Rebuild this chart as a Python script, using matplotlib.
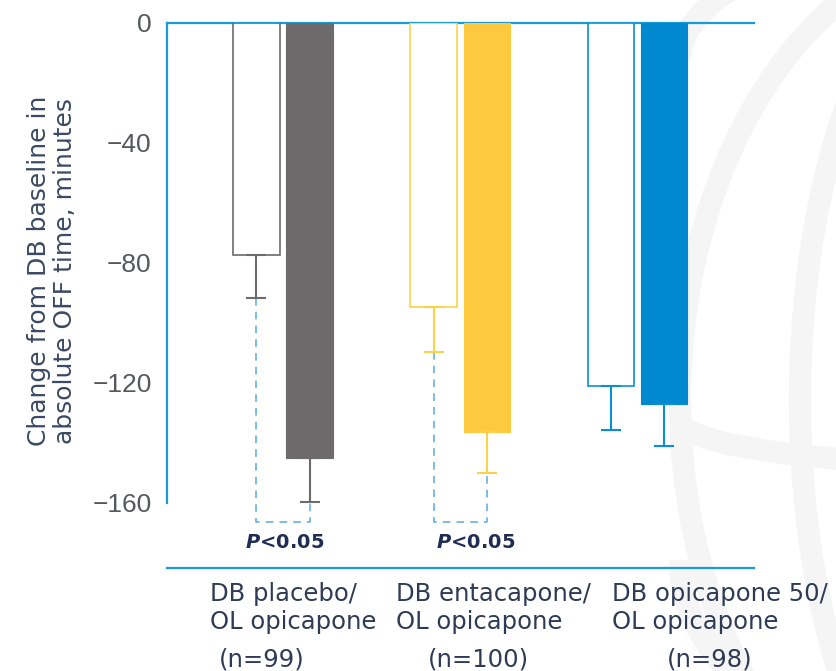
import numpy as np
import matplotlib.pyplot as plt
from matplotlib.patches import Ellipse, Arc

# Change from DB baseline in absolute OFF time (minutes)
groups = ['DB placebo/\nOL opicapone', 'DB entacapone/\nOL opicapone', 'DB opicapone 50/\nOL opicapone']
n_labels = ['(n=99)', '(n=100)', '(n=98)']
db_end = [-77.3, -94.7, -121.0]      # end of double-blind (open bars)
ol_end = [-145.0, -136.3, -127.0]    # end of open-label (filled bars)
db_err = [14.4, 15.0, 14.7]
ol_err = [14.7, 13.7, 14.0]
p_labels = ['$\\bfit{P}$<0.05', '$\\bfit{P}$<0.05', '']

fill_colors = ['#6d6a6b', '#fdc93f', '#0089cf']
edge_colors = ['#6d6a6b', '#fdd24a', '#0a8fd3']
blue = '#1a9ad6'

fig = plt.figure(figsize=(8.36, 6.71), dpi=100)

# faint globe watermark in the background (pixel coordinates)
bg = fig.add_axes([0, 0, 1, 1], zorder=0)
bg.set_xlim(0, 836)
bg.set_ylim(671, 0)
bg.axis('off')
wm = '#f5f5f5'
bg.add_patch(Ellipse((1000, 400), 640, 920, fill=False, ec=wm, lw=16))
bg.add_patch(Ellipse((1000, 400), 400, 920, fill=False, ec=wm, lw=16))
bg.add_patch(Arc((1000, 420), 640, 90, theta1=90, theta2=180, ec=wm, lw=16))
bg.add_patch(Arc((1000, 560), 640, 420, theta1=90, theta2=180, ec=wm, lw=16))
bg.add_patch(Arc((1000, 60), 640, 260, theta1=180, theta2=270, ec=wm, lw=16))

ax = fig.add_axes([167/836, 1-568/671, (754-167)/836, (568-23)/671], zorder=1)
ax.set_facecolor('none')

x = np.arange(len(groups))
off = 0.15
w = 0.262

for i in range(len(groups)):
    ax.bar(x[i]-off, db_end[i], w, color='white', edgecolor=edge_colors[i], linewidth=1.2, zorder=3)
    ax.bar(x[i]+off, ol_end[i], w, color=fill_colors[i], edgecolor=fill_colors[i], linewidth=0.8, zorder=3)
    ax.errorbar(x[i]-off, db_end[i], yerr=[[db_err[i]], [0]], fmt='none', ecolor=edge_colors[i],
                elinewidth=1.5, capsize=7, capthick=1.5, zorder=4)
    ax.errorbar(x[i]+off, ol_end[i], yerr=[[ol_err[i]], [0]], fmt='none', ecolor=edge_colors[i],
                elinewidth=1.5, capsize=7, capthick=1.5, zorder=4)

# dashed brackets joining the two error bars of the significant groups
bracket_y = -166.3
for i in range(2):
    bx = [x[i]-off, x[i]-off, x[i]+off, x[i]+off]
    by = [db_end[i]-db_err[i], bracket_y, bracket_y, ol_end[i]-ol_err[i]]
    ax.plot(bx, by, ls=(0, (5, 4)), color='#5aaad8', lw=1.1, zorder=2)

p_x = [0.01, 1.085]
for i in range(2):
    ax.text(p_x[i], -173.3, p_labels[i], ha='center', va='center', fontsize=14,
            fontweight='bold', color='#1f2d54')

ax.set_xlim(-0.654, 2.657)
ax.set_ylim(-181.7, 0)
ax.set_yticks([0, -40, -80, -120, -160])
ax.set_xticks([])
ax.tick_params(axis='y', length=0, pad=11, labelsize=19, labelcolor='#55595f')
for lab in ax.get_yticklabels():
    lab.set_family('Liberation Sans')

for s in ['top', 'left', 'bottom']:
    ax.spines[s].set_color(blue)
    ax.spines[s].set_linewidth(1.6)
ax.spines['right'].set_visible(False)
ax.spines['left'].set_bounds(-160, 0)

ax.set_ylabel('Change from DB baseline in\nabsolute OFF time, minutes', fontsize=18,
              color='#3b4a63', linespacing=1.1, labelpad=14)
ax.yaxis.set_label_coords(-0.153, 0.545)

# group labels under the axis
txt_color = '#2e3b55'
left_px = [210, 396, 612]
n_px = [262, 478, 710]
for i in range(len(groups)):
    fig.text(left_px[i]/836, 1-582/671, groups[i], ha='left', va='top', fontsize=17.5,
             color=txt_color, linespacing=1.22)
    fig.text(n_px[i]/836, 1-660/671, n_labels[i], ha='center', va='center', fontsize=17.5,
             color=txt_color)

fig.savefig('out.png', dpi=100)
